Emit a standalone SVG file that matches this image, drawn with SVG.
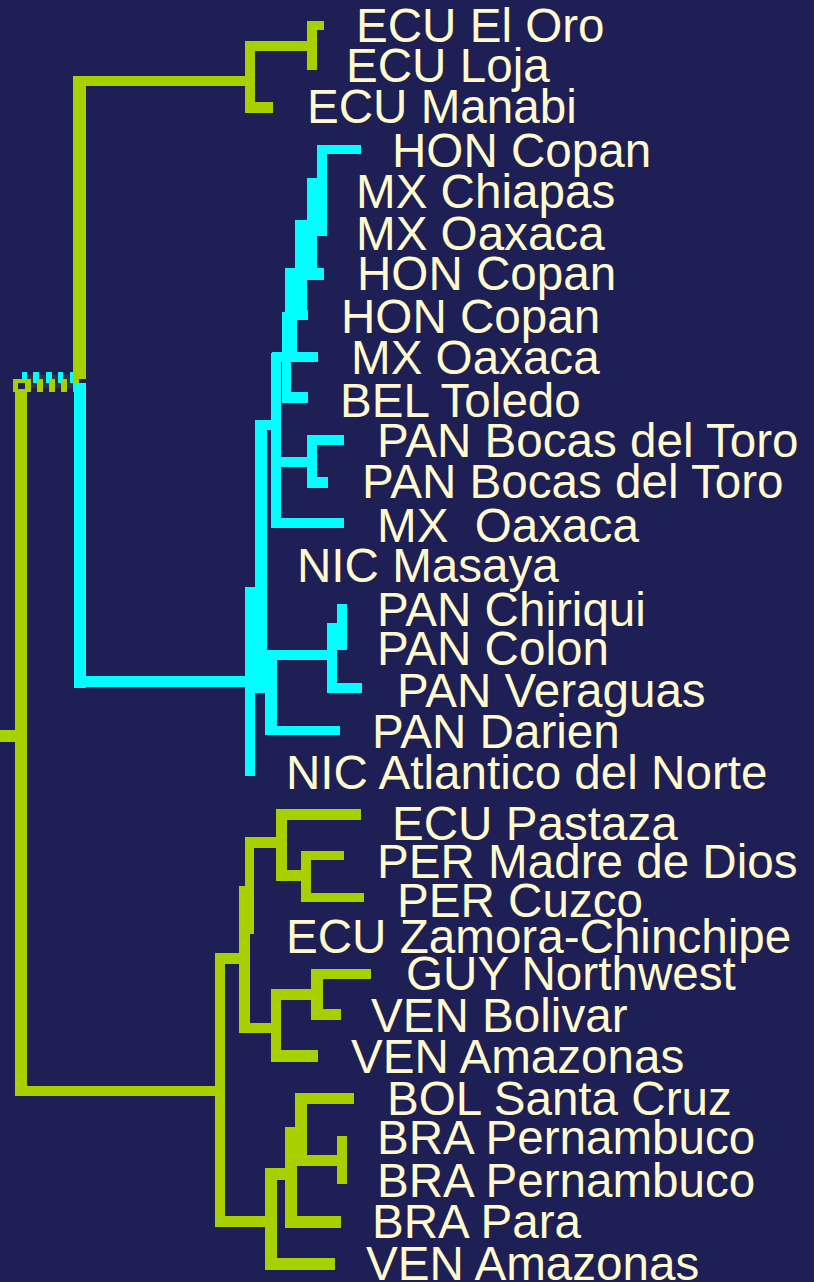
<svg xmlns="http://www.w3.org/2000/svg" width="814" height="1282" viewBox="0 0 814 1282">
<style>
.bg{fill:#1e1f55}
.l{fill:#a8cf00}
.c{fill:#00ffff}
.t{font-family:"Liberation Sans",Arial,sans-serif;font-size:47.6px;fill:#fffacd;white-space:pre}
</style>
<rect class="bg" x="0" y="0" width="814" height="1282"/>
<g id="connectors">
  <!-- root -->
  <rect fill="#33333f" x="27" y="375" width="46" height="13"/>
  <g class="c">
    <rect x="22" y="372" width="5" height="11"/><rect x="33" y="372" width="6" height="11"/>
    <rect x="46" y="372" width="6" height="11"/><rect x="58" y="372" width="5" height="11"/>
    <rect x="70" y="372" width="6" height="11"/>
  </g>
  <g class="l">
    <rect x="37" y="379" width="6" height="13"/><rect x="49" y="379" width="6" height="13"/>
    <rect x="61" y="379" width="6" height="13"/><rect x="73" y="379" width="6" height="13"/>
    <path d="M13 379h18v13h-18z M18 383v6h7v-6z" fill-rule="evenodd"/>
    <rect x="15" y="392" width="12" height="704"/>
    <rect x="0" y="730" width="15" height="12"/>
    <rect x="15" y="1086" width="200" height="10"/>
  </g>
  <!-- ECU top clade -->
  <g class="l">
    <rect x="73" y="76" width="13" height="303"/>
    <rect x="73" y="76" width="177" height="10"/>
    <rect x="245" y="41" width="10" height="72"/>
    <rect x="245" y="41" width="62" height="10"/>
    <rect x="245" y="102" width="28" height="11"/>
    <rect x="307" y="21" width="10" height="49"/>
    <rect x="307" y="21" width="17" height="9"/>
  </g>
  <!-- Central American clade -->
  <g class="c">
    <rect x="74" y="383" width="12" height="305"/>
    <rect x="80" y="676" width="170" height="11"/>
    <rect x="245" y="587" width="10" height="189"/>
    <rect x="245" y="587" width="17" height="10"/>
    <rect x="255" y="421" width="12" height="272"/>
    <rect x="255" y="653" width="15" height="40"/>
    <rect x="267" y="650" width="70" height="10"/>
    <rect x="327" y="623" width="10" height="70"/>
    <rect x="332" y="683" width="30" height="10"/>
    <rect x="337" y="604" width="10" height="46"/>
    <rect x="265" y="660" width="12" height="75"/>
    <rect x="265" y="726" width="75" height="9"/>
    <rect x="255" y="420" width="25" height="10"/>
    <rect x="271" y="353" width="10" height="175"/>
    <rect x="272" y="518" width="72" height="10"/>
    <rect x="280" y="457" width="27" height="10"/>
    <rect x="307" y="435" width="10" height="53"/>
    <rect x="307" y="435" width="37" height="10"/>
    <rect x="307" y="477" width="21" height="11"/>
    <rect x="272" y="352" width="46" height="10"/>
    <rect x="282" y="352" width="9" height="51"/>
    <rect x="282" y="392" width="26" height="11"/>
    <rect x="282" y="312" width="15" height="40"/>
    <rect x="285" y="268" width="12" height="44"/>
    <rect x="295" y="220" width="12" height="100"/>
    <rect x="295" y="310" width="13" height="10"/>
    <rect x="307" y="178" width="10" height="101"/>
    <rect x="307" y="268" width="17" height="12"/>
    <rect x="317" y="145" width="10" height="91"/>
    <rect x="317" y="145" width="44" height="9"/>
  </g>
  <!-- South American clade -->
  <g class="l">
    <rect x="215" y="953" width="10" height="274"/>
    <rect x="215" y="953" width="24" height="11"/>
    <rect x="239" y="886" width="11" height="147"/>
    <rect x="245" y="837" width="9" height="97"/>
    <rect x="245" y="837" width="31" height="11"/>
    <rect x="276" y="809" width="11" height="72"/>
    <rect x="276" y="809" width="85" height="11"/>
    <rect x="287" y="870" width="14" height="11"/>
    <rect x="301" y="851" width="10" height="51"/>
    <rect x="301" y="851" width="43" height="9"/>
    <rect x="301" y="893" width="63" height="9"/>
    <rect x="239" y="1023" width="32" height="10"/>
    <rect x="271" y="989" width="10" height="73"/>
    <rect x="271" y="1050" width="47" height="12"/>
    <rect x="271" y="989" width="40" height="11"/>
    <rect x="311" y="969" width="12" height="51"/>
    <rect x="311" y="969" width="60" height="10"/>
    <rect x="311" y="1009" width="30" height="11"/>
    <rect x="225" y="1216" width="40" height="11"/>
    <rect x="265" y="1168" width="12" height="102"/>
    <rect x="265" y="1258" width="70" height="12"/>
    <rect x="265" y="1168" width="20" height="12"/>
    <rect x="285" y="1127" width="12" height="101"/>
    <rect x="297" y="1216" width="44" height="12"/>
    <rect x="295" y="1093" width="12" height="73"/>
    <rect x="295" y="1093" width="59" height="11"/>
    <rect x="307" y="1155" width="30" height="11"/>
    <rect x="337" y="1136" width="10" height="48"/>
  </g>
</g>
<g id="leaf-01"><text class="t" x="356" y="42">ECU El Oro</text></g>
<g id="leaf-02"><text class="t" x="346" y="82">ECU Loja</text></g>
<g id="leaf-03"><text class="t" x="307" y="123">ECU Manabi</text></g>
<g id="leaf-04"><text class="t" x="392" y="167">HON Copan</text></g>
<g id="leaf-05"><text class="t" x="356" y="208">MX Chiapas</text></g>
<g id="leaf-06"><text class="t" x="356" y="250">MX Oaxaca</text></g>
<g id="leaf-07"><text class="t" x="357" y="290">HON Copan</text></g>
<g id="leaf-08"><text class="t" x="341" y="333">HON Copan</text></g>
<g id="leaf-09"><text class="t" x="351" y="374">MX Oaxaca</text></g>
<g id="leaf-10"><text class="t" x="340" y="417">BEL Toledo</text></g>
<g id="leaf-11"><text class="t" x="377" y="457">PAN Bocas del Toro</text></g>
<g id="leaf-12"><text class="t" x="362" y="498">PAN Bocas del Toro</text></g>
<g id="leaf-13"><text class="t" x="377" y="542">MX  Oaxaca</text></g>
<g id="leaf-14"><text class="t" x="297" y="582">NIC Masaya</text></g>
<g id="leaf-15"><text class="t" x="377" y="626">PAN Chiriqui</text></g>
<g id="leaf-16"><text class="t" x="377" y="665">PAN Colon</text></g>
<g id="leaf-17"><text class="t" x="397" y="707">PAN Veraguas</text></g>
<g id="leaf-18"><text class="t" x="372" y="748">PAN Darien</text></g>
<g id="leaf-19"><text class="t" x="286" y="789">NIC Atlantico del Norte</text></g>
<g id="leaf-20"><text class="t" x="392" y="840">ECU Pastaza</text></g>
<g id="leaf-21"><text class="t" x="377" y="878">PER Madre de Dios</text></g>
<g id="leaf-22"><text class="t" x="397" y="917">PER Cuzco</text></g>
<g id="leaf-23"><text class="t" x="286" y="953">ECU Zamora-Chinchipe</text></g>
<g id="leaf-24"><text class="t" x="406" y="990">GUY Northwest</text></g>
<g id="leaf-25"><text class="t" x="371" y="1032">VEN Bolivar</text></g>
<g id="leaf-26"><text class="t" x="351" y="1073">VEN Amazonas</text></g>
<g id="leaf-27"><text class="t" x="387" y="1115">BOL Santa Cruz</text></g>
<g id="leaf-28"><text class="t" x="377" y="1154">BRA Pernambuco</text></g>
<g id="leaf-29"><text class="t" x="377" y="1197">BRA Pernambuco</text></g>
<g id="leaf-30"><text class="t" x="372" y="1238">BRA Para</text></g>
<g id="leaf-31"><text class="t" x="366" y="1280">VEN Amazonas</text></g>
</svg>
